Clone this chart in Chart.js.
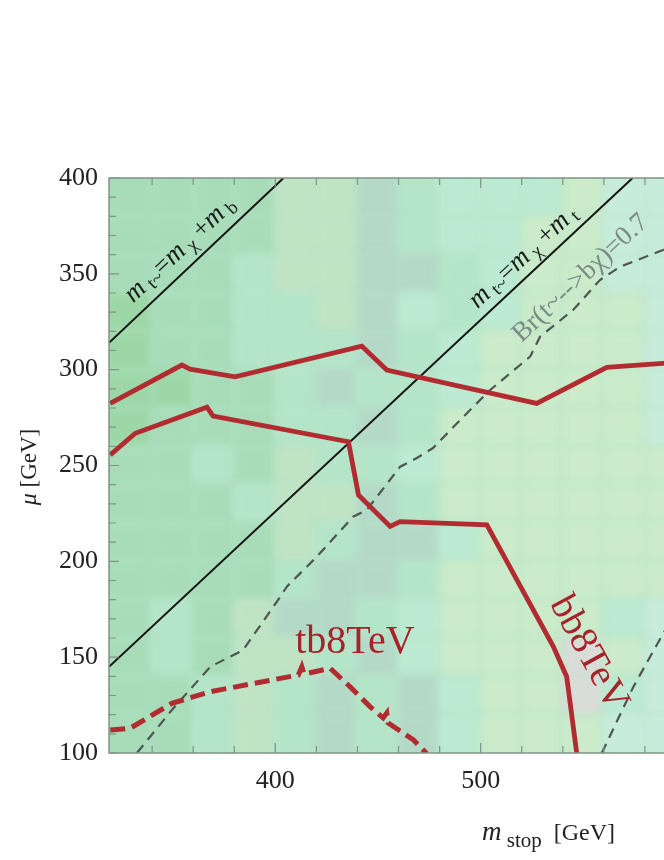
<!DOCTYPE html>
<html>
<head>
<meta charset="utf-8">
<script src="https://cdn.jsdelivr.net/npm/chart.js@4.4.1/dist/chart.umd.min.js"></script>
<style>
    html, body { margin: 0; padding: 0; background: #ffffff; overflow: hidden; }
    #wrap { width: 686px; height: 860px; }
</style>
</head>
<body>
<div id="wrap"><canvas id="stopChart" width="686" height="860"></canvas></div>
<script>
// Axis ranges and ticks (m_stop in GeV, mu in GeV)
const xRange = [319, 600];
const yRange = [100, 400];
const xLabelTicks = [400, 500];
const yLabelTicks = [100, 150, 200, 250, 300, 350, 400];
const xMinorTicks = [340, 360, 380, 400, 420, 440, 460, 480, 500, 520, 540, 560, 580, 600];
const yMinorTicks = [100, 110, 120, 130, 140, 150, 160, 170, 180, 190, 200, 210, 220, 230, 240, 250,
                     260, 270, 280, 290, 300, 310, 320, 330, 340, 350, 360, 370, 380, 390, 400];
const xMajorTicks = [400, 500, 600];
const yMajorTicks = [100, 150, 200, 250, 300, 350, 400];

// Kinematic thresholds
const mbThreshold = [{x: 319, y: 314}, {x: 404, y: 400}];
const mtThreshold = [{x: 319, y: 145}, {x: 574, y: 400}];

// Br(t~ -> b chi) = 0.7 contours
const brUpper = [
    {x: 332.6, y: 100.0}, {x: 349.6, y: 122.4}, {x: 368.3, y: 145.0}, {x: 384.3, y: 153.7},
    {x: 402.4, y: 181.5}, {x: 405.6, y: 186.8}, {x: 420.2, y: 202.4}, {x: 437.9, y: 223.3},
    {x: 444.5, y: 226.8}, {x: 460.8, y: 249.4}, {x: 468.9, y: 253.9}, {x: 476.8, y: 259.1},
    {x: 490.0, y: 273.7}, {x: 504.6, y: 289.4}, {x: 524.1, y: 306.8}, {x: 528.9, y: 317.2},
    {x: 545.0, y: 331.1}, {x: 558.1, y: 346.8}, {x: 567.9, y: 353.7}, {x: 588.8, y: 362.4},
    {x: 592.0, y: 364.0}
];
const brLower = [{x: 559.0, y: 100.0}, {x: 574.4, y: 134.6}, {x: 588.9, y: 162.4}, {x: 591.0, y: 166.0}];

// Exclusion contours
const bbUpper = [
    {x: 319.6, y: 282.4}, {x: 354.5, y: 302.4}, {x: 358.5, y: 300.3}, {x: 380.4, y: 296.3},
    {x: 442.1, y: 312.3}, {x: 454.3, y: 299.8}, {x: 527.3, y: 282.4}, {x: 561.4, y: 301.2},
    {x: 592.0, y: 303.5}
];
const bbLower = [
    {x: 319.6, y: 255.5}, {x: 331.8, y: 266.8}, {x: 366.7, y: 280.4}, {x: 369.7, y: 275.8},
    {x: 435.6, y: 262.4}, {x: 440.5, y: 234.6}, {x: 455.9, y: 218.2}, {x: 460.8, y: 220.7},
    {x: 503.0, y: 219.0}, {x: 535.4, y: 155.5}, {x: 541.9, y: 139.8}, {x: 546.8, y: 99.8}
];
const tbContour = [
    {x: 319.6, y: 112.0}, {x: 329.3, y: 112.9}, {x: 349.6, y: 125.9}, {x: 368.3, y: 132.0},
    {x: 411.2, y: 140.7}, {x: 412.9, y: 145.0}, {x: 414.0, y: 141.2}, {x: 426.7, y: 144.2},
    {x: 436.4, y: 134.6}, {x: 446.1, y: 124.2}, {x: 452.5, y: 118.3}, {x: 454.3, y: 120.9},
    {x: 454.9, y: 115.7}, {x: 467.3, y: 106.8}, {x: 473.7, y: 99.8}
];

// Background scan colour cells, rows from top (mu 400) to bottom (mu 100)
const bgXEdges = [300, 340, 360, 380, 400, 420, 440, 460, 480, 500, 520, 540, 560, 580, 620];
const bgYEdges = [420, 380, 360, 340, 320, 300, 280, 260, 240, 220, 200, 180, 160, 140, 120, 80];
const bgPalette = {
    a: '#a8dcb9', g: '#9dd7a7', b: '#b5e5c9', c: '#cbebca', d: '#b5d9c7',
    e: '#c0e3c4', f: '#c8ecdb', h: '#dadcd8', m: '#bcead2'
};
const bgRows = [
    'aaaaeedbmmmcff',
    'aaaaeedbmmccff',
    'aaabeeddbmccff',
    'gaabbedmbmcccf',
    'gaabbbdbmccccf',
    'ggaabdbbmccccf',
    'gaaabbdbcccccf',
    'aabaebbmcccccc',
    'aaabeedbcccccc',
    'aaaaebddmccccc',
    'aaaabddbcccccc',
    'abaeddbmccccmf',
    'abaeebdmccchcf',
    'aabebdbdmcchmf',
    'aabebdbdmcccff'
];

// Labels placed along the curves (anchor in data units)
const labelMb = {x: 356, y: 360};
const labelMt = {x: 523, y: 356};
const labelBr = {x: 551, y: 345};
const labelTb = {x: 409.7, y: 152};
const labelBb = {x: 533.5, y: 178};

const serif = '"Liberation Serif", "DejaVu Serif", serif';
const redColor = '#b22b31';
const redText = '#a8222b';

// Draw text made of several pieces with their own fonts
function drawRich(ctx, parts, px, py, angle, align) {
    ctx.save();
    ctx.translate(px, py);
    ctx.rotate(angle);
    let total = 0;
    parts.forEach(p => {
        ctx.font = p.font;
        p.w = ctx.measureText(p.text).width;
        total += p.w;
    });
    let cx = align === 'center' ? -total / 2 : 0;
    ctx.textAlign = 'left';
    ctx.textBaseline = 'alphabetic';
    parts.forEach(p => {
        ctx.font = p.font;
        ctx.fillStyle = p.color;
        ctx.fillText(p.text, cx, p.dy || 0);
        cx += p.w;
    });
    ctx.restore();
}

function lineAngle(chart, p0, p1) {
    const {x, y} = chart.scales;
    const dx = x.getPixelForValue(p1.x) - x.getPixelForValue(p0.x);
    const dy = y.getPixelForValue(p1.y) - y.getPixelForValue(p0.y);
    return Math.atan2(dy, dx);
}

const backdrop = {
    id: 'backdrop',
    beforeDatasetsDraw(chart) {
        const {ctx, chartArea: a, scales: {x, y}} = chart;
        ctx.save();
        ctx.beginPath();
        ctx.rect(a.left, a.top, a.right - a.left, a.bottom - a.top);
        ctx.clip();
        ctx.fillStyle = bgPalette.b;
        ctx.fillRect(a.left, a.top, a.right - a.left, a.bottom - a.top);
        ctx.filter = 'blur(4px)';
        bgRows.forEach((row, r) => {
            for (let c = 0; c < row.length; c++) {
                const x0 = x.getPixelForValue(bgXEdges[c]);
                const x1 = x.getPixelForValue(bgXEdges[c + 1]);
                const y0 = y.getPixelForValue(bgYEdges[r]);
                const y1 = y.getPixelForValue(bgYEdges[r + 1]);
                ctx.fillStyle = bgPalette[row[c]];
                ctx.fillRect(x0 - 0.5, y0 - 0.5, x1 - x0 + 1, y1 - y0 + 1);
            }
        });
        ctx.restore();
    }
};

const frame = {
    id: 'frame',
    afterDatasetsDraw(chart) {
        const {ctx, chartArea: a, scales: {x, y}} = chart;
        ctx.save();
        ctx.strokeStyle = '#7f9485';
        ctx.lineWidth = 1.5;
        ctx.beginPath();
        ctx.moveTo(a.right, a.top);
        ctx.lineTo(a.left, a.top);
        ctx.lineTo(a.left, a.bottom);
        ctx.lineTo(a.right, a.bottom);
        ctx.stroke();
        ctx.lineWidth = 1.2;
        ctx.beginPath();
        xMinorTicks.forEach(v => {
            const px = x.getPixelForValue(v);
            const len = xMajorTicks.includes(v) ? 10 : 7;
            ctx.moveTo(px, a.bottom);
            ctx.lineTo(px, a.bottom - len);
            ctx.moveTo(px, a.top);
            ctx.lineTo(px, a.top + len);
        });
        yMinorTicks.forEach(v => {
            const py = y.getPixelForValue(v);
            const len = yMajorTicks.includes(v) ? 10 : 7;
            ctx.moveTo(a.left, py);
            ctx.lineTo(a.left + len, py);
        });
        ctx.stroke();
        ctx.restore();
    }
};

const annotations = {
    id: 'annotations',
    afterDraw(chart) {
        const {ctx, scales: {x, y}} = chart;
        const ink = '#1a1a1a';
        const mi = 'italic 27px ' + serif;
        const rg = '26px ' + serif;
        const sb = '19px ' + serif;
        const angMb = lineAngle(chart, mbThreshold[0], mbThreshold[1]);
        const angMt = lineAngle(chart, mtThreshold[0], mtThreshold[1]);
        const angBb = lineAngle(chart, bbLower[8], bbLower[9]);

        drawRich(ctx, [
            {text: 'm', font: mi, color: ink},
            {text: ' t~', font: sb, color: ink, dy: 4},
            {text: '=', font: rg, color: ink},
            {text: 'm', font: mi, color: ink},
            {text: ' χ', font: sb, color: ink, dy: 4},
            {text: ' +', font: rg, color: ink},
            {text: 'm', font: mi, color: ink},
            {text: ' b', font: sb, color: ink, dy: 4}
        ], x.getPixelForValue(labelMb.x), y.getPixelForValue(labelMb.y), angMb, 'center');

        drawRich(ctx, [
            {text: 'm', font: mi, color: ink},
            {text: ' t~', font: sb, color: ink, dy: 4},
            {text: '=', font: rg, color: ink},
            {text: 'm', font: mi, color: ink},
            {text: ' χ', font: sb, color: ink, dy: 4},
            {text: ' +', font: rg, color: ink},
            {text: 'm', font: mi, color: ink},
            {text: ' t', font: sb, color: ink, dy: 4}
        ], x.getPixelForValue(labelMt.x), y.getPixelForValue(labelMt.y), angMt, 'center');

        drawRich(ctx, [
            {text: 'Br(t~-->bχ)=0.7', font: '27px ' + serif, color: '#7b8a84'}
        ], x.getPixelForValue(labelBr.x), y.getPixelForValue(labelBr.y), angMt, 'center');

        drawRich(ctx, [
            {text: 'tb8TeV', font: '40px ' + serif, color: redText}
        ], x.getPixelForValue(labelTb.x), y.getPixelForValue(labelTb.y), 0, 'left');

        drawRich(ctx, [
            {text: 'bb8TeV', font: '39px ' + serif, color: redText}
        ], x.getPixelForValue(labelBb.x), y.getPixelForValue(labelBb.y), angBb, 'left');

        // Axis titles
        drawRich(ctx, [
            {text: 'm', font: 'italic 27px ' + serif, color: '#222'},
            {text: ' stop', font: '21px ' + serif, color: '#222', dy: 7},
            {text: '  [GeV]', font: '24px ' + serif, color: '#222'}
        ], 482, 840, 0, 'left');

        drawRich(ctx, [
            {text: 'μ', font: 'italic 24px ' + serif, color: '#222'},
            {text: ' [GeV]', font: '23px ' + serif, color: '#222'}
        ], 36, 467, -Math.PI / 2, 'center');
    }
};

function lineSet(data, color, width, dash) {
    return {
        data: data,
        showLine: true,
        borderColor: color,
        backgroundColor: color,
        borderWidth: width,
        borderDash: dash || [],
        pointRadius: 0,
        tension: 0,
        fill: false
    };
}

const tickFont = {family: serif, size: 26};

new Chart(document.getElementById('stopChart'), {
    type: 'scatter',
    data: {
        datasets: [
            lineSet(bbUpper, redColor, 4.8),
            lineSet(bbLower, redColor, 4.8),
            lineSet(tbContour, redColor, 5, [15, 7]),
            lineSet(brUpper, '#4e5552', 2.2, [10, 7]),
            lineSet(brLower, '#4e5552', 2.2, [10, 7]),
            lineSet(mbThreshold, '#141414', 2),
            lineSet(mtThreshold, '#141414', 2)
        ]
    },
    options: {
        responsive: false,
        animation: false,
        devicePixelRatio: 1,
        layout: {padding: {top: 178, right: 0, bottom: 0, left: 0}},
        plugins: {
            legend: {display: false},
            tooltip: {enabled: false}
        },
        scales: {
            x: {
                type: 'linear',
                min: xRange[0],
                max: xRange[1],
                grid: {display: false, drawTicks: false},
                border: {display: false},
                afterFit: function(scale) { scale.height = 107; },
                afterBuildTicks: function(scale) {
                    scale.ticks = xLabelTicks.map(v => ({value: v}));
                },
                ticks: {font: tickFont, color: '#222', padding: 13, maxRotation: 0, autoSkip: false}
            },
            y: {
                type: 'linear',
                min: yRange[0],
                max: yRange[1],
                grid: {display: false, drawTicks: false},
                border: {display: false},
                afterFit: function(scale) { scale.width = 109; },
                afterBuildTicks: function(scale) {
                    scale.ticks = yLabelTicks.map(v => ({value: v}));
                },
                ticks: {font: tickFont, color: '#222', padding: 11, autoSkip: false}
            }
        }
    },
    plugins: [backdrop, frame, annotations]
});
</script>
</body>
</html>
